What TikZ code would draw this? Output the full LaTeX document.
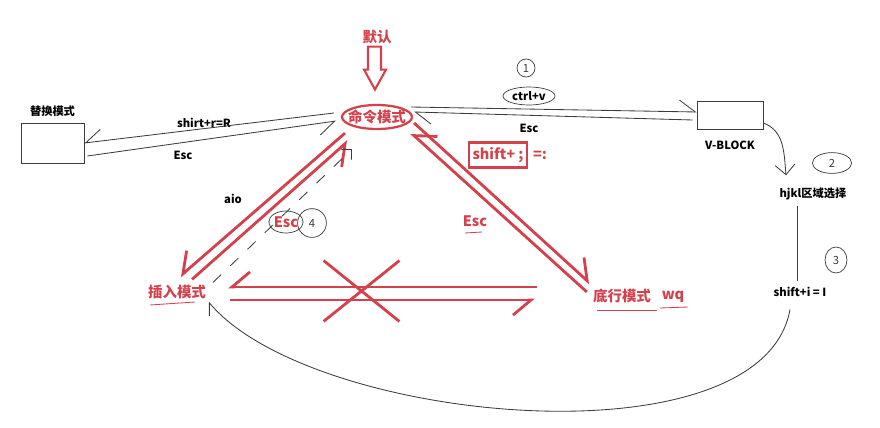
\documentclass[tikz,border=0pt]{standalone}
\usepackage{fontspec}
\setmainfont{Noto Sans CJK SC}
\usetikzlibrary{arrows.meta,positioning,shapes.geometric,shapes.misc}
\definecolor{modered}{RGB}{211,66,76}
\definecolor{pen}{RGB}{60,60,60}

\begin{document}
\begin{tikzpicture}[
  x=0.025cm,y=-0.025cm,
  mode/.style={text=modered,font=\fontsize{10.3}{12}\selectfont\bfseries,inner sep=1pt},
  note/.style={font=\fontsize{8}{10}\selectfont\bfseries,inner sep=1pt},
  digit/.style={font=\fontsize{8}{9}\selectfont,text=pen,draw=pen,line width=0.5pt,inner sep=0pt},
  keybox/.style={draw=pen,line width=0.6pt},
  pencil/.style={pen,line width=0.6pt},
  marker/.style={modered,line width=2pt},
  barb/.style={-{Straight Barb[harpoon,length=4.5mm,angle'=80]}},
  barbsw/.style={-{Straight Barb[harpoon,swap,length=4.5mm,angle'=80]}},
  tick/.style={-{Straight Barb[harpoon,length=4mm,angle'=72]}},
  ticksw/.style={-{Straight Barb[harpoon,swap,length=4mm,angle'=72]}}
]
  \useasboundingbox (0,0) rectangle (880,427);

  % modes
  \node[mode] (dflt) at (377,37) {默认};
  \node[draw=modered,line width=1.6pt,ellipse,minimum width=1.75cm,minimum height=0.6cm,
        label={[mode]center:命令模式}] (cmd) at (377,117) {};
  \node[mode] (ins) at (177,292) {插入模式};
  \node[mode] (bot) at (622,296) {底行模式};
  \node[mode] (wq) at (673,297) {wq};
  \node[keybox,minimum width=1.575cm,minimum height=1cm] (rep) at (52.5,143) {};
  \node[note,above=3pt of rep] (replbl) {替换模式};
  \node[keybox,minimum width=1.65cm,minimum height=0.7cm] (vblk) at (730,115) {};
  \node[note,below=7pt of vblk] (vlbl) {V-BLOCK};
  \node[note] (hjkl) at (813,194) {hjkl区域选择};
  \node[note] (shifti) at (800,292) {shift+i = I};

  % key labels
  \node[note] (shirt) at (204,123) {shirt+r=R};
  \node[note] (escrep) at (183,155) {Esc};
  \node[note,draw=pen,line width=0.5pt,ellipse,inner sep=0.5pt,minimum width=1.3cm,minimum height=0.45cm] (ctrlv) at (529,96) {ctrl+v};
  \node[note] (escv) at (529,128) {Esc};
  \node[note] (aio) at (233,199) {aio};
  \node[mode,draw=pen,line width=0.5pt,ellipse,inner sep=0pt,minimum height=0.55cm] (escL) at (286,222) {Esc};
  \node[mode] (escR) at (475,221) {Esc};
  \node[mode,draw=modered,line width=1.5pt,minimum width=1.45cm,minimum height=0.625cm] (semi) at (498,155) {shift+ ;};
  \node[mode] (colon) at (540,155) {=:};

  % hand numbers
  \node[digit,circle,minimum size=0.45cm] (one) at (526,68) {1};
  \node[digit,ellipse,minimum width=0.98cm,minimum height=0.52cm] (two) at (832,163) {2};
  \node[digit,ellipse,minimum width=0.55cm,minimum height=0.65cm] (three) at (836,260) {3};
  \node[digit,circle,minimum size=0.72cm] (four) at (312,223) {4};

  % default arrow
  \draw[modered,line width=1.5pt] ([shift={(-9,1)}]dflt.south) -- ++(0,23) -- ++(-4,0)
    -- ++(11,20) -- ++(11,-20) -- ++(-5,0) -- ++(0,-23) -- cycle;

  % replace mode
  \draw[pencil,ticksw] ([shift={(-7,-4)}]cmd.west) -- (rep.east);
  \draw[pencil,ticksw] ([shift={(3,13)}]rep.east) -- ([shift={(-5,4)}]cmd.west);

  % visual block
  \draw[pencil,tick] ([shift={(-2,-10)}]cmd.east) -- ([shift={(0,-3)}]vblk.west);
  \draw[pencil,tick] ([shift={(-4,5)}]vblk.west) -- ([shift={(1,-5)}]cmd.east);
  \draw[pencil,-{Straight Barb[length=2.5mm]}] ([shift={(0,8)}]vblk.east)
    to[out=-20,in=95] ([shift={(-27,-11)}]hjkl.north);
  \draw[pencil] ([shift={(-16,4)}]hjkl.south) -- ([shift={(-3,-5)}]shifti.north);
  \draw[pencil,-{Straight Barb[harpoon,length=2.5mm,angle'=80]}] ([shift={(-10,11)}]shifti.south)
    to[out=-100,in=-50,looseness=0.7] ([shift={(1,10)}]ins.east);

  % insert mode
  \draw[marker,barbsw] ([shift={(-32,3)}]cmd.south) -- ([shift={(3,-7)}]ins.north);
  \draw[marker,barbsw] ([shift={(15,-4)}]ins.north) -- ([shift={(-29,11)}]cmd.south);
  \draw[pencil,dash pattern=on 8pt off 9pt,-{Straight Barb[length=1.8mm]}]
    ([shift={(36,-1)}]ins.north) -- ([shift={(-25,19)}]cmd.south);

  % last line mode
  \draw[marker,barb] ([shift={(1,6)}]cmd.east) -- ([shift={(-32,-4)}]bot.north);
  \draw[marker,barbsw] ([shift={(-4.5,-4)}]bot.west) -- ([shift={(-2,16)}]cmd.east);

  % no direct way
  \draw[marker,barbsw] ([shift={(-54.5,-9)}]bot.west) -- ([shift={(20.5,-5)}]ins.east);
  \draw[marker,barbsw] ([shift={(22.5,8)}]ins.east) -- ([shift={(-56.5,4)}]bot.west);
  \node[draw=modered,line width=2pt,cross out,inner sep=0pt,minimum width=1.825cm,minimum height=1.45cm] (nope) at (361.5,291) {};

  % underlines
  \draw[modered,line width=0.6pt] ([shift={(-27,13)}]ins.center) -- ([shift={(18,10)}]ins.center);
  \draw[modered,line width=0.6pt] ([shift={(-25,14)}]bot.center) -- ([shift={(35,14)}]bot.center);
  \draw[modered,line width=0.6pt] ([shift={(-13,11)}]wq.center) -- ([shift={(15,10)}]wq.center);
  \draw[modered,line width=0.6pt] ([shift={(-10,12)}]escR.center) -- ([shift={(7,11)}]escR.center);
\end{tikzpicture}
\end{document}
